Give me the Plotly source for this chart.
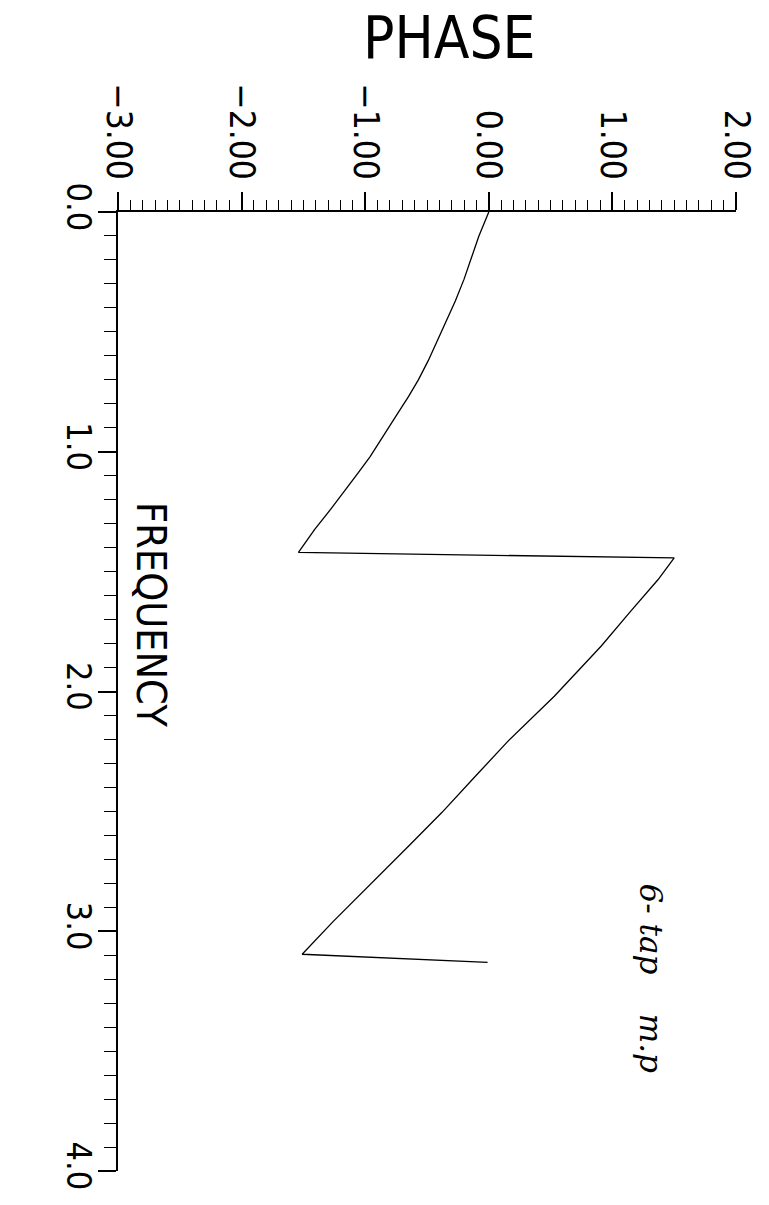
import plotly.graph_objects as go

# Frequency (rad) and phase (rad), in drawing order
frequency = [0.00, 0.10, 0.19, 0.28, 0.37, 0.45, 0.53, 0.62, 0.70, 0.77, 0.85,
             0.94, 1.02, 1.09, 1.16, 1.24, 1.325, 1.42,
             1.443, 1.533, 1.67, 1.81, 2.02, 2.21, 2.36, 2.505, 2.64, 2.78,
             2.96, 3.096, 3.13]
phase = [0.00, -0.08, -0.14, -0.20, -0.27, -0.34, -0.41, -0.49, -0.57, -0.65, -0.75,
         -0.86, -0.96, -1.06, -1.16, -1.28, -1.41, -1.54,
         1.50, 1.37, 1.14, 0.91, 0.53, 0.15, -0.12, -0.38, -0.64, -0.91,
         -1.26, -1.51, -0.01]

phase_ticks = [-3, -2, -1, 0, 1, 2]
freq_ticks = [0, 1, 2, 3, 4]

FONT = "Liberation Sans Narrow, DejaVu Sans Condensed, Liberation Sans, sans-serif"

fig = go.Figure()
fig.add_trace(go.Scatter(x=phase, y=frequency, mode="lines",
                         line=dict(color="black", width=1.3),
                         hoverinfo="skip", showlegend=False))

fig.update_layout(
    width=769, height=1205,
    margin=dict(l=118, r=23, t=212, b=34),
    paper_bgcolor="white", plot_bgcolor="white",
    showlegend=False,
    xaxis=dict(
        side="top", range=[-3, 2], tickvals=phase_ticks,
        tickformat=".2f", tickangle=90,
        ticks="outside", ticklen=18, tickwidth=2, tickcolor="black",
        minor=dict(dtick=0.1, tick0=0, ticks="outside", ticklen=10,
                   tickwidth=1.3, tickcolor="black"),
        showline=True, linewidth=2, linecolor="black",
        showgrid=False, zeroline=False,
        tickfont=dict(family=FONT, size=35, color="black", weight=300),
        ticklabelstandoff=0,
    ),
    yaxis=dict(
        range=[4, 0], tickvals=freq_ticks,
        tickformat=".1f", tickangle=90,
        ticks="outside", ticklen=18, tickwidth=2, tickcolor="black",
        minor=dict(dtick=0.1, tick0=0, ticks="outside", ticklen=12,
                   tickwidth=1.3, tickcolor="black"),
        showline=True, linewidth=2, linecolor="black",
        showgrid=False, zeroline=False,
        tickfont=dict(family=FONT, size=34, color="black", weight=300),
        ticklabelstandoff=-10,
    ),
    annotations=[
        dict(text="PHASE", xref="paper", yref="paper", x=0.537, y=1.181,
             showarrow=False, xanchor="center", yanchor="middle",
             font=dict(family=FONT, size=58, color="black", weight=300)),
        dict(text="FREQUENCY", xref="paper", yref="paper", x=0.053, y=0.580,
             showarrow=False, textangle=90, xanchor="center", yanchor="middle",
             font=dict(family=FONT, size=41, color="black", weight=300)),
        dict(text="6- tap    m.p", xref="paper", yref="paper", x=0.862, y=0.201,
             showarrow=False, textangle=90, xanchor="center", yanchor="middle",
             font=dict(family="DejaVu Serif, serif", size=31, color="black",
                       style="italic")),
    ],
)

fig.write_html("out.html")
